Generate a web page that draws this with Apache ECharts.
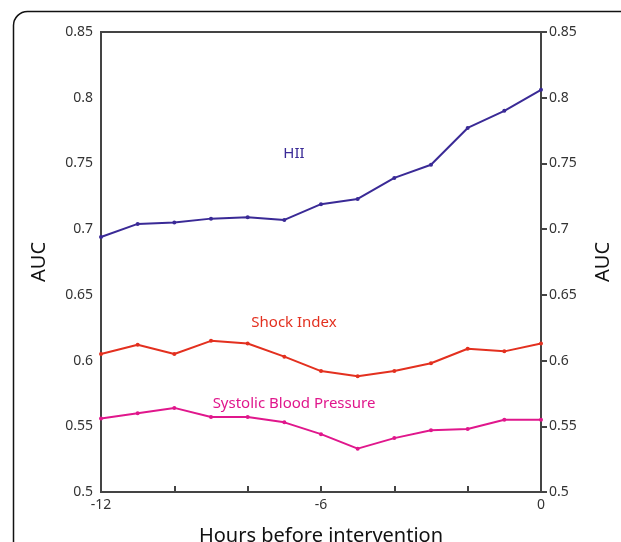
<!DOCTYPE html>
<html>
<head>
<meta charset="utf-8">
<script src="https://cdn.jsdelivr.net/npm/echarts@6/dist/echarts.min.js"></script>
<style>
html, body { margin: 0; padding: 0; background: #fff; }
#main { width: 621px; height: 542px; }
</style>
</head>
<body>
<div id="main"></div>
<script>
// hours before intervention
var hours = [-12, -11, -10, -9, -8, -7, -6, -5, -4, -3, -2, -1, 0];
var hii = [0.694, 0.704, 0.705, 0.708, 0.709, 0.707, 0.719, 0.723, 0.739, 0.749, 0.777, 0.790, 0.806];
var shockIndex = [0.605, 0.612, 0.605, 0.615, 0.613, 0.603, 0.592, 0.588, 0.592, 0.598, 0.609, 0.607, 0.613];
var sbp = [0.556, 0.560, 0.564, 0.557, 0.557, 0.553, 0.544, 0.533, 0.541, 0.547, 0.548, 0.555, 0.555];
var xTickLabels = [-12, -6, 0];

var font = 'Noto Sans';
var axisColor = '#444';

function pairs(ys) {
	var out = [];
	for (var i = 0; i < hours.length; i++) {
		out.push([hours[i], ys[i]]);
	}
	return out;
}

function lineSeries(name, ys, color) {
	return {
		name: name,
		type: 'line',
		data: pairs(ys),
		symbol: 'circle',
		symbolSize: 4,
		lineStyle: { color: color, width: 2 },
		itemStyle: { color: color },
		animation: false
	};
}

function yAxis(pos, nameGap, tickInside) {
	return {
		type: 'value',
		position: pos,
		min: 0.5,
		max: 0.85,
		interval: 0.05,
		name: 'AUC',
		nameLocation: 'middle',
		nameGap: nameGap,
		nameRotate: 90,
		nameTextStyle: { fontFamily: font, fontSize: 20, color: '#111' },
		axisLine: { show: true, lineStyle: { color: axisColor, width: 2 } },
		axisTick: { show: true, inside: tickInside, length: 6, lineStyle: { color: axisColor, width: 2 } },
		axisLabel: { fontFamily: font, fontSize: 14, color: '#333', margin: 8 },
		splitLine: { show: false }
	};
}

var myChart = echarts.init(document.getElementById('main'));
var option = {
	backgroundColor: '#fff',
	grid: {
		left: 101, right: 80, top: 32, bottom: 50,
		outerBoundsMode: 'none',
		containLabel: false,
		show: true, borderColor: axisColor, borderWidth: 2, backgroundColor: 'transparent'
	},
	xAxis: {
		type: 'value',
		min: -12,
		max: 0,
		interval: 2,
		name: 'Hours before intervention',
		nameLocation: 'middle',
		nameGap: 34,
		nameTextStyle: { fontFamily: font, fontSize: 20, color: '#111' },
		axisLine: { show: true, onZero: false, lineStyle: { color: axisColor, width: 2 } },
		axisTick: { show: true, inside: true, length: 6, lineStyle: { color: axisColor, width: 2 } },
		axisLabel: {
			fontFamily: font, fontSize: 14, color: '#333', margin: 6,
			formatter: function (v) { return xTickLabels.indexOf(v) >= 0 ? String(v) : ''; }
		},
		splitLine: { show: false }
	},
	yAxis: [yAxis('left', 52, true), yAxis('right', 52, false)],
	series: [
		lineSeries('HII', hii, '#3a2a96'),
		lineSeries('Shock Index', shockIndex, '#e3301f'),
		lineSeries('Systolic Blood Pressure', sbp, '#e0178c')
	],
	graphic: [
		{
			type: 'rect', left: 11, top: 9, silent: true,
			shape: { width: 640, height: 560, r: 14 },
			style: { fill: 'none', stroke: '#111', lineWidth: 1.5 }
		},
		{ type: 'text', x: 294, y: 154, style: { text: 'HII', fill: '#3a2a96', font: '15px "Noto Sans"', align: 'center', verticalAlign: 'middle' } },
		{ type: 'text', x: 294, y: 323, style: { text: 'Shock Index', fill: '#e3301f', font: '15px "Noto Sans"', align: 'center', verticalAlign: 'middle' } },
		{ type: 'text', x: 294, y: 404, style: { text: 'Systolic Blood Pressure', fill: '#e0178c', font: '15px "Noto Sans"', align: 'center', verticalAlign: 'middle' } }
	]
};
myChart.setOption(option);
</script>
</body>
</html>
